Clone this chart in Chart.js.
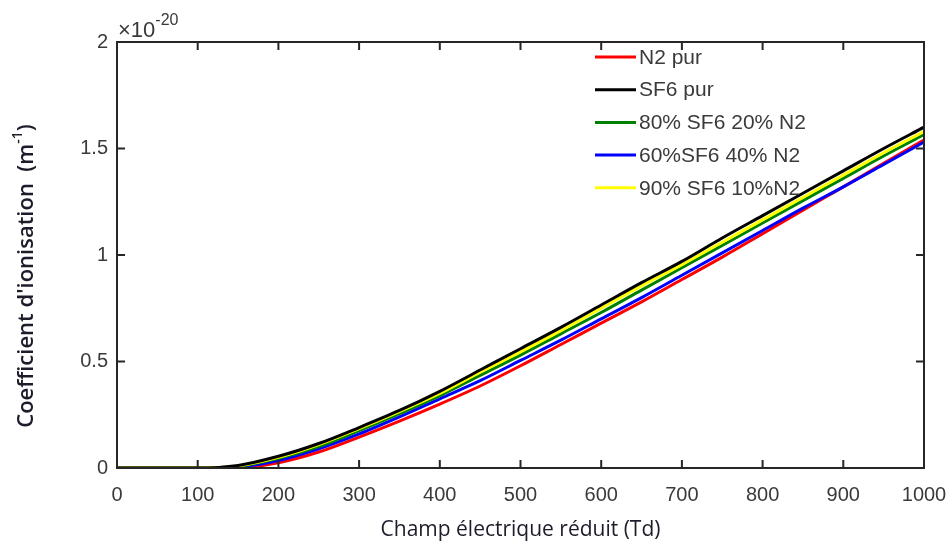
<!DOCTYPE html>
<html>
<head>
<meta charset="utf-8">
<script src="https://cdn.jsdelivr.net/npm/chart.js@4/dist/chart.umd.min.js"></script>
<style>
  html, body { margin: 0; padding: 0; background: #fff; }
  #wrap { width: 949px; height: 545px; position: relative; }
</style>
</head>
<body>
<div id="wrap"><canvas id="myChart"></canvas></div>
<script>
// champ reduit (Td)
const champ = [0, 50, 100, 150, 200, 250, 300, 350, 400, 450, 500, 550, 600, 650, 700, 750, 800, 850, 900, 950, 1000];

// coefficients, en unites de 1e-20
const n2Pur    = [0, 0, 0, 0.002, 0.025, 0.075, 0.145, 0.22, 0.30, 0.385, 0.48, 0.58, 0.68, 0.78, 0.885, 0.99, 1.10, 1.21, 1.32, 1.43, 1.54];
const sf6Pur   = [0, 0, 0, 0.012, 0.055, 0.115, 0.19, 0.27, 0.36, 0.46, 0.56, 0.66, 0.765, 0.87, 0.97, 1.08, 1.185, 1.29, 1.395, 1.50, 1.60];
const sf6_80   = [0, 0, 0, 0.008, 0.045, 0.10, 0.175, 0.255, 0.34, 0.435, 0.53, 0.63, 0.73, 0.835, 0.94, 1.045, 1.15, 1.255, 1.36, 1.465, 1.565];
const sf6_60   = [0, 0, 0, 0.005, 0.035, 0.09, 0.16, 0.24, 0.325, 0.41, 0.505, 0.60, 0.70, 0.80, 0.905, 1.01, 1.115, 1.22, 1.32, 1.425, 1.53];
const sf6_90   = [0, 0, 0, 0.010, 0.05, 0.11, 0.185, 0.265, 0.35, 0.45, 0.545, 0.645, 0.75, 0.855, 0.955, 1.06, 1.165, 1.27, 1.375, 1.48, 1.58];

const xTicks = [0, 100, 200, 300, 400, 500, 600, 700, 800, 900, 1000];
const yTicks = [0, 0.5, 1, 1.5, 2];

const pts = (arr) => arr.map((v, i) => ({ x: champ[i], y: v }));

const series = [
  { label: 'N2 pur', data: n2Pur, color: '#ff0000', order: 5 },
  { label: 'SF6 pur', data: sf6Pur, color: '#000000', order: 1 },
  { label: '80% SF6 20% N2', data: sf6_80, color: '#008000', order: 3 },
  { label: '60%SF6 40% N2', data: sf6_60, color: '#0000ff', order: 4 },
  { label: '90% SF6 10%N2', data: sf6_90, color: '#ffff00', order: 2 }
];

const tickColor = '#3a3a3a';
const titleColor = '#1c1c2a';
const font = 'Liberation Sans, Arial, sans-serif';
const titleFont = 'Open Sans, sans-serif';

// cadre + ticks vers l'interieur + legende + exposant + titres, facon matlab
const cadre = {
  id: 'cadre',
  afterDraw(chart) {
    const ctx = chart.ctx;
    const a = chart.chartArea;
    const xs = chart.scales.x, ys = chart.scales.y;
    ctx.save();
    ctx.strokeStyle = '#262626';
    ctx.lineWidth = 2;
    ctx.strokeRect(a.left, a.top, a.right - a.left, a.bottom - a.top);
    ctx.beginPath();
    xTicks.forEach(t => {
      const px = xs.getPixelForValue(t);
      ctx.moveTo(px, a.bottom); ctx.lineTo(px, a.bottom - 8);
      ctx.moveTo(px, a.top); ctx.lineTo(px, a.top + 8);
    });
    yTicks.forEach(t => {
      const py = ys.getPixelForValue(t);
      ctx.moveTo(a.left, py); ctx.lineTo(a.left + 8, py);
      ctx.moveTo(a.right, py); ctx.lineTo(a.right - 8, py);
    });
    ctx.stroke();

    // exposant
    ctx.fillStyle = tickColor;
    ctx.textBaseline = 'alphabetic';
    ctx.textAlign = 'left';
    ctx.font = '22px ' + font;
    ctx.fillText('\u00d710', a.left + 1, 37);
    const w = ctx.measureText('\u00d710').width;
    ctx.font = '16px ' + font;
    ctx.fillText('-20', a.left + 1 + w, 25);

    // legende
    ctx.font = '21px ' + font;
    ctx.textBaseline = 'middle';
    series.forEach((s, i) => {
      const y = 57 + i * 32.7;
      ctx.strokeStyle = s.color;
      ctx.lineWidth = 3;
      ctx.beginPath();
      ctx.moveTo(595, y); ctx.lineTo(636, y);
      ctx.stroke();
      ctx.fillStyle = tickColor;
      ctx.fillText(s.label, 639, y + 1);
    });

    // titre x
    ctx.fillStyle = titleColor;
    ctx.textAlign = 'center';
    ctx.textBaseline = 'middle';
    ctx.font = '21px ' + titleFont;
    ctx.fillText('Champ \u00e9lectrique r\u00e9duit (Td)', (a.left + a.right) / 2, 530);

    // titre y, avec exposant
    ctx.translate(27, 276);
    ctx.rotate(-Math.PI / 2);
    ctx.font = '600 22px ' + titleFont;
    const main = "Coefficient d'ionisation  (m";
    const sup = '-1';
    const close = ')';
    const w1 = ctx.measureText(main).width;
    ctx.font = '600 14px ' + titleFont;
    const w2 = ctx.measureText(sup).width;
    ctx.font = '600 22px ' + titleFont;
    const w3 = ctx.measureText(close).width;
    let x0 = -(w1 + w2 + w3) / 2;
    ctx.textAlign = 'left';
    ctx.textBaseline = 'middle';
    ctx.fillText(main, x0, 0);
    ctx.font = '600 14px ' + titleFont;
    ctx.fillText(sup, x0 + w1, -9);
    ctx.font = '600 22px ' + titleFont;
    ctx.fillText(close, x0 + w1 + w2, 0);
    ctx.restore();
  }
};

new Chart(document.getElementById('myChart'), {
  type: 'line',
  data: {
    datasets: series.map(s => ({
      label: s.label,
      data: pts(s.data),
      borderColor: s.color,
      backgroundColor: s.color,
      borderWidth: 3,
      pointRadius: 0,
      cubicInterpolationMode: 'monotone',
      order: s.order
    }))
  },
  options: {
    responsive: true,
    maintainAspectRatio: false,
    animation: false,
    layout: { padding: { left: 0, right: 25, top: 42, bottom: 0 } },
    plugins: { legend: { display: false }, tooltip: { enabled: false } },
    scales: {
      x: {
        type: 'linear',
        min: 0, max: 1000,
        afterBuildTicks: (s) => { s.ticks = xTicks.map(v => ({ value: v })); },
        afterFit: (s) => { s.height = 77; s.paddingLeft = 0; s.paddingRight = 0; },
        grid: { display: false, drawTicks: false },
        border: { display: false },
        ticks: { color: tickColor, font: { family: font, size: 20 }, padding: 15, maxRotation: 0, autoSkip: false, callback: (v) => String(v) }
      },
      y: {
        type: 'linear',
        min: 0, max: 2,
        afterBuildTicks: (s) => { s.ticks = yTicks.map(v => ({ value: v })); },
        afterFit: (s) => { s.width = 117; s.paddingTop = 0; s.paddingBottom = 0; },
        grid: { display: false, drawTicks: false },
        border: { display: false },
        ticks: { color: tickColor, font: { family: font, size: 20 }, padding: 9, callback: (v) => String(v) }
      }
    }
  },
  plugins: [cadre]
});
</script>
</body>
</html>
